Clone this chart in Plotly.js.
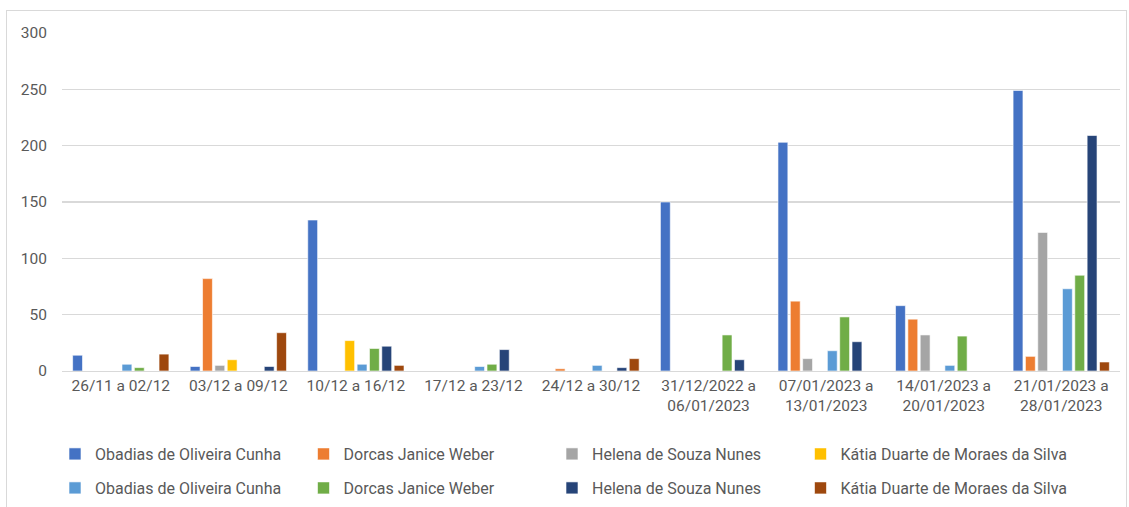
<!DOCTYPE html>
<html><head><meta charset="utf-8">
<script src="https://cdn.plot.ly/plotly-3.0.1.min.js"></script>
<style>
body{margin:0;background:#fff;}
#frame{position:absolute;left:6px;top:10px;width:1121px;height:500px;border:1px solid #d9d9d9;box-sizing:border-box;}
#chart{position:absolute;left:0;top:0;width:1129px;height:507px;}
</style></head>
<body><div id="frame"></div><div id="chart"></div>
<script>
const categories = ["26/11 a 02/12","03/12 a 09/12","10/12 a 16/12","17/12 a 23/12","24/12 a 30/12","31/12/2022 a<br>06/01/2023","07/01/2023 a<br>13/01/2023","14/01/2023 a<br>20/01/2023","21/01/2023 a<br>28/01/2023"];
const seriesNames = ["Obadias de Oliveira Cunha","Dorcas Janice Weber","Helena de Souza Nunes","Kátia Duarte de Moraes da Silva","Obadias de Oliveira Cunha","Dorcas Janice Weber","Helena de Souza Nunes","Kátia Duarte de Moraes da Silva"];
const s1 = [14, 4, 134, null, null, 150, 203, 58, 249];
const s2 = [null, 82, null, null, 2, null, 62, 46, 13];
const s3 = [null, 5, null, null, null, null, 11, 32, 123];
const s4 = [null, 10, 27, null, null, null, null, null, null];
const s5 = [6, null, 6, 4, 5, null, 18, 5, 73];
const s6 = [3, null, 20, 6, null, 32, 48, 31, 85];
const s7 = [null, 4, 22, 19, 3, 10, 26, null, 209];
const s8 = [15, 34, 5, null, 11, null, null, null, 8];
const allSeries = [s1,s2,s3,s4,s5,s6,s7,s8];
const colors = ["#4472C4","#ED7D31","#A5A5A5","#FFC000","#5B9BD5","#70AD47","#264478","#9E480E"];
const yTicks = [0,50,100,150,200,250,300];

const legendIds = ['legend','legend2','legend3','legend4','legend5','legend6','legend7','legend8'];
const traces = allSeries.map((v,i)=>({
  type:'bar', x:categories, y:v, name:seriesNames[i],
  marker:{color:colors[i], line:{color:'#ffffff', width:0.6}},
  legend: legendIds[i],
  hoverinfo:'y'
}));
const font = {family:'Roboto, "Liberation Sans", sans-serif', color:'#595959'};
const plotL = 62, plotW = 1058, plotB = 371, plotH = 338;
const colLeft = [55, 303.5, 552, 800.5];
const rowTop = [437, 471];
const layout = {
  width:1129, height:507,
  margin:{l:62, r:9, t:33, b:136, autoexpand:false},
  paper_bgcolor:'rgba(0,0,0,0)', plot_bgcolor:'rgba(0,0,0,0)',
  barmode:'group', bargap:0.16, bargroupgap:0.2,
  font:font,
  xaxis:{type:'category', showgrid:false, showline:true, linecolor:'#d9d9d9', linewidth:1.3,
    ticks:'', tickfont:Object.assign({size:15.5}, font), fixedrange:true},
  yaxis:{range:[0,300], tickvals:yTicks, ticktext:yTicks.map(String), showgrid:true, gridcolor:'#d9d9d9', gridwidth:1.3,
    zeroline:false, showline:false, ticks:'', ticklabelstandoff:14, tickfont:Object.assign({size:15.5}, font), fixedrange:true},
  showlegend:true
};
legendIds.forEach((id,i)=>{
  layout[id] = {orientation:'h', xanchor:'left', yanchor:'top',
    x:(colLeft[i%4]-plotL)/plotW, y:-(rowTop[Math.floor(i/4)]-plotB)/plotH,
    font:Object.assign({size:16}, font), itemwidth:30, bgcolor:'rgba(0,0,0,0)'};
});
Plotly.newPlot('chart', traces, layout, {displayModeBar:false, staticPlot:true});
</script></body></html>
